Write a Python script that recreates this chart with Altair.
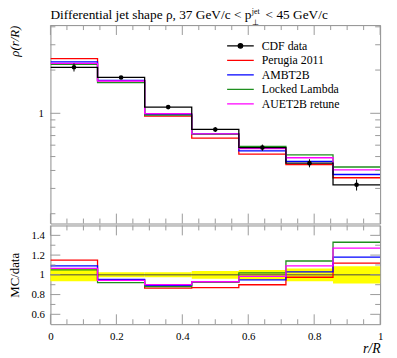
import altair as alt
import pandas as pd
import numpy as np

# ---------------- data ----------------
edges = [0, 1/7, 2/7, 3/7, 4/7, 5/7, 6/7, 1.0]
data_vals = [2.09, 1.776, 1.105, 0.772, 0.577, 0.450, 0.318]
data_rel_err = [0.065, 0.025, 0.025, 0.04, 0.05, 0.065, 0.088]
perugia = [2.40, 1.687, 0.956, 0.672, 0.519, 0.439, 0.356]
ambt2b = [2.278, 1.696, 0.983, 0.718, 0.548, 0.4635, 0.375]
locked = [2.195, 1.634, 0.972, 0.714, 0.589, 0.513, 0.423]
auet2b = [2.226, 1.678, 0.995, 0.718, 0.568, 0.4905, 0.404]
series_names = ["CDF data", "Perugia 2011", "AMBT2B", "Locked Lambda", "AUET2B retune"]
series_colors = ["#000000", "#ff0000", "#0000ff", "#1f8f1f", "#ff00ff"]
mc_series = {"Perugia 2011": perugia, "AMBT2B": ambt2b,
             "Locked Lambda": locked, "AUET2B retune": auet2b}

FONT = "Liberation Serif"
TICK = "#999999"
W, H1, H2 = 334, 201, 100

# ---------------- tables ----------------
def step_rows(name, vals):
    return [{"series": name, "x": edges[i], "y": vals[min(i, 6)]} for i in range(8)]

main_rows = []
for n, v in mc_series.items():
    main_rows += step_rows(n, v)
main_rows += step_rows("CDF data", data_vals)
main_df = pd.DataFrame(main_rows)

ratio_rows = []
for n, v in mc_series.items():
    ratio_rows += step_rows(n, [a / b for a, b in zip(v, data_vals)])
ratio_df = pd.DataFrame(ratio_rows)

pts_df = pd.DataFrame({
    "xc": [(edges[i] + edges[i + 1]) / 2 for i in range(7)],
    "y": data_vals,
    "lo": [v * (1 - e) for v, e in zip(data_vals, data_rel_err)],
    "hi": [v * (1 + e) for v, e in zip(data_vals, data_rel_err)],
})
band_df = pd.DataFrame({
    "x0": edges[:-1], "x1": edges[1:],
    "lo": [1 - e for e in data_rel_err], "hi": [1 + e for e in data_rel_err],
})

xscale = alt.Scale(domain=[0, 1], nice=False, zero=False)
ymain = alt.Scale(type="log", domain=[0.171, 4.11], nice=False)
yratio = alt.Scale(domain=[0.5, 1.5], nice=False, zero=False)

x_major = [0, 0.2, 0.4, 0.6, 0.8, 1.0]
x_minor = [round(v, 2) for v in np.arange(0.05, 1.0, 0.05) if abs(v / 0.2 - round(v / 0.2)) > 1e-6]
ym_major = [1.0]
ym_minor = [0.2, 0.3, 0.4, 0.5, 0.6, 0.7, 0.8, 0.9, 2.0, 3.0, 4.0]
yr_major = [0.6, 0.8, 1.0, 1.2, 1.4]
yr_minor = [0.7, 0.9, 1.1, 1.3]

# ---------------- axes (shared by every layer of a panel) ----------------
ax_main_y = alt.Axis(
    values=[1], format="~g", ticks=False, domain=False, grid=False,
    labelPadding=7, labelFont=FONT, labelFontSize=11, labelColor="black",
    title="ρ(r/R)", titleFont=FONT, titleFontSize=13, titleFontWeight="normal",
    titleFontStyle="italic", titleColor="black", titleX=-29, titleY=0,
    titleAlign="right", titleAngle=270, titleBaseline="bottom")
ax_ratio_x = alt.Axis(
    values=x_major, format="~g", ticks=False, domain=False, grid=False,
    labelPadding=7, labelFont=FONT, labelFontSize=11, labelColor="black", labelFlush=False,
    title="r/R", titleFont=FONT, titleFontSize=14, titleFontWeight="normal",
    titleFontStyle="italic", titleColor="black", titleAnchor="end", titlePadding=0)
ax_ratio_y = alt.Axis(
    values=yr_major, format="~g", ticks=False, domain=False, grid=False,
    labelPadding=6, labelFont=FONT, labelFontSize=11, labelColor="black",
    title="MC/data", titleFont=FONT, titleFontSize=13, titleFontWeight="normal",
    titleColor="black", titleX=-29, titleAngle=270, titleBaseline="bottom")


def xticks(vals, length, H, axis):
    df = pd.DataFrame({"v": vals})
    base = alt.Chart(df).mark_rule(color=TICK, strokeWidth=1)
    top = base.encode(x=alt.X("v:Q", scale=xscale, axis=axis), y=alt.value(0), y2=alt.value(length))
    bot = base.encode(x=alt.X("v:Q", scale=xscale, axis=axis), y=alt.value(H), y2=alt.value(H - length))
    return [top, bot]


def yticks(vals, length, scale, axis):
    df = pd.DataFrame({"v": vals})
    base = alt.Chart(df).mark_rule(color=TICK, strokeWidth=1)
    left = base.encode(y=alt.Y("v:Q", scale=scale, axis=axis), x=alt.value(0), x2=alt.value(length))
    right = base.encode(y=alt.Y("v:Q", scale=scale, axis=axis), x=alt.value(W), x2=alt.value(W - length))
    return [left, right]


DATA_SYMBOL = "M-1,0L1,0M-0.17,0A0.17,0.17,0,1,1,0.17,0A0.17,0.17,0,1,1,-0.17,0Z"

color_main = alt.Color(
    "series:N",
    scale=alt.Scale(domain=series_names, range=series_colors),
    sort=series_names,
    legend=alt.Legend(
        title=None, orient="none", legendX=178, legendY=15,
        symbolType=alt.ExprRef(expr="datum.value === 'CDF data' ? '" + DATA_SYMBOL + "' : 'stroke'"),
        symbolFillColor=alt.ExprRef(expr="datum.value === 'CDF data' ? '#000000' : 'transparent'"),
        symbolSize=729, symbolStrokeWidth=1.3,
        labelFont=FONT, labelFontSize=12, labelColor="black", labelOffset=7,
        rowPadding=2.7, clipHeight=12, padding=0,
    ),
)

main_lines = alt.Chart(main_df).mark_line(interpolate="step-after", strokeWidth=1.3, clip=True).encode(
    x=alt.X("x:Q", scale=xscale, axis=None),
    y=alt.Y("y:Q", scale=ymain, axis=ax_main_y),
    color=color_main,
)
err = alt.Chart(pts_df).mark_rule(color="black", strokeWidth=1).encode(
    x=alt.X("xc:Q", scale=xscale, axis=None),
    y=alt.Y("lo:Q", scale=ymain, axis=ax_main_y), y2="hi:Q")
pts = alt.Chart(pts_df).mark_circle(color="black", size=22, opacity=1).encode(
    x=alt.X("xc:Q", scale=xscale, axis=None),
    y=alt.Y("y:Q", scale=ymain, axis=ax_main_y))


def txt(text, x, y, size=13.5, style="normal"):
    return alt.Chart(alt.Data(values=[{"k": 1}])).mark_text(
        text=text, align="left", baseline="alphabetic", font=FONT,
        fontSize=size, fontStyle=style, color="black").encode(
        x=alt.value(x), y=alt.value(y))


title_layers = [
    txt("Differential jet shape ρ, 37 GeV/c < p", 0, -6),
    txt("jet", 204, -11, size=8),
    txt("⊥", 204, 0, size=8),
    txt("< 45 GeV/c", 218, -6),
]

main = alt.layer(
    main_lines, err, pts,
    *xticks(x_minor, 5, H1, None), *xticks(x_major, 10, H1, None),
    *yticks(ym_minor, 5, ymain, ax_main_y), *yticks(ym_major, 10, ymain, ax_main_y),
    *title_layers,
).properties(width=W, height=H1)

band = alt.Chart(band_df).mark_rect(color="#ffff00").encode(
    x=alt.X("x0:Q", scale=xscale, axis=ax_ratio_x), x2="x1:Q",
    y=alt.Y("lo:Q", scale=yratio, axis=ax_ratio_y), y2="hi:Q")
unity = alt.Chart(alt.Data(values=[{"one": 1.0}])).mark_rule(color="#444444", strokeWidth=1).encode(
    y=alt.Y("one:Q", scale=yratio, axis=ax_ratio_y))
ratio_lines = alt.Chart(ratio_df).mark_line(interpolate="step-after", strokeWidth=1.3, clip=True).encode(
    x=alt.X("x:Q", scale=xscale, axis=ax_ratio_x),
    y=alt.Y("y:Q", scale=yratio, axis=ax_ratio_y),
    color=alt.Color("series:N", scale=alt.Scale(domain=series_names, range=series_colors), legend=None),
)

ratio = alt.layer(
    band, unity, ratio_lines,
    *xticks(x_minor, 5, H2, ax_ratio_x), *xticks(x_major, 10, H2, ax_ratio_x),
    *yticks(yr_minor, 5, yratio, ax_ratio_y), *yticks(yr_major, 10, yratio, ax_ratio_y),
).properties(width=W, height=H2)

chart = alt.vconcat(main, ratio, spacing=0).resolve_scale(color="independent").resolve_legend(
    color="independent").properties(
    padding={"left": 0, "top": -3, "right": 5, "bottom": 5}
).configure_view(stroke="#8c8c8c", strokeWidth=1)

chart.save("out.html", embed_options={"renderer": "svg", "actions": False})
